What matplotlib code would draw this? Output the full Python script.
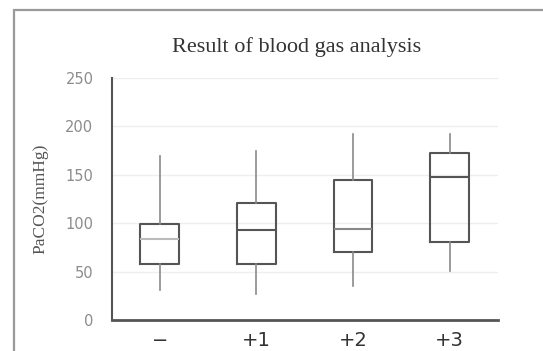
import matplotlib.pyplot as plt
from matplotlib.patches import Rectangle

# Box plot statistics (PaCO2, mmHg)
groups = ["\u2212", "+1", "+2", "+3"]
whisker_low = [31, 27, 35, 51]
q1 = [58, 58, 70, 81]
median = [84, 93, 94, 148]
q3 = [99, 121, 145, 173]
whisker_high = [169, 175, 192, 192]
median_colors = ["#bbbbbb", "#555555", "#888888", "#555555"]

fig = plt.figure(figsize=(5.43, 3.51), dpi=100)

# outer frame around the chart (cut off on right and bottom)
frame_top = 1 - 10 / 351
fig.patches.append(Rectangle((14 / 543, -0.2), 1.2, frame_top + 0.2,
                             transform=fig.transFigure, fill=False,
                             edgecolor="#9a9a9a", linewidth=1.6))

ax = fig.add_axes([111.5 / 543, 1 - 320 / 351, (498 - 111.5) / 543, (320 - 78) / 351])

stats = []
for i in range(len(groups)):
    stats.append(dict(whislo=whisker_low[i], q1=q1[i], med=median[i],
                      q3=q3[i], whishi=whisker_high[i], fliers=[]))

bp = ax.bxp(stats, positions=range(len(groups)), widths=0.4, showcaps=False,
            boxprops=dict(color="#555555", linewidth=1.5),
            whiskerprops=dict(color="#8a8a8a", linewidth=1.2),
            medianprops=dict(color="#555555", linewidth=1.5))
for line, c in zip(bp["medians"], median_colors):
    line.set_color(c)

ax.set_xlim(-0.5, len(groups) - 0.5)
ax.set_ylim(0, 250)
ax.set_yticks(range(0, 251, 50))
ax.set_xticks(range(len(groups)))
ax.set_xticklabels(groups, fontsize=14, color="#333333")
ax.tick_params(axis="x", length=0, pad=8)
ax.tick_params(axis="y", length=0, pad=13, labelsize=10.5, labelcolor="#8c8c8c")

ax.yaxis.grid(True, color="#eeeeee", linewidth=1)
ax.set_axisbelow(True)
for s in ["top", "right"]:
    ax.spines[s].set_visible(False)
ax.spines["left"].set_color("#555555")
ax.spines["left"].set_linewidth(1.5)
ax.spines["bottom"].set_color("#555555")
ax.spines["bottom"].set_linewidth(2)

ax.set_ylabel("PaCO2(mmHg)", family="Liberation Serif", fontsize=12.5,
              color="#555555", labelpad=12)
fig.text(297 / 543, 1 - 47 / 351, "Result of blood gas analysis",
         family="Liberation Serif", fontsize=16, color="#333333",
         ha="center", va="center")

fig.savefig("out.png", dpi=100)
